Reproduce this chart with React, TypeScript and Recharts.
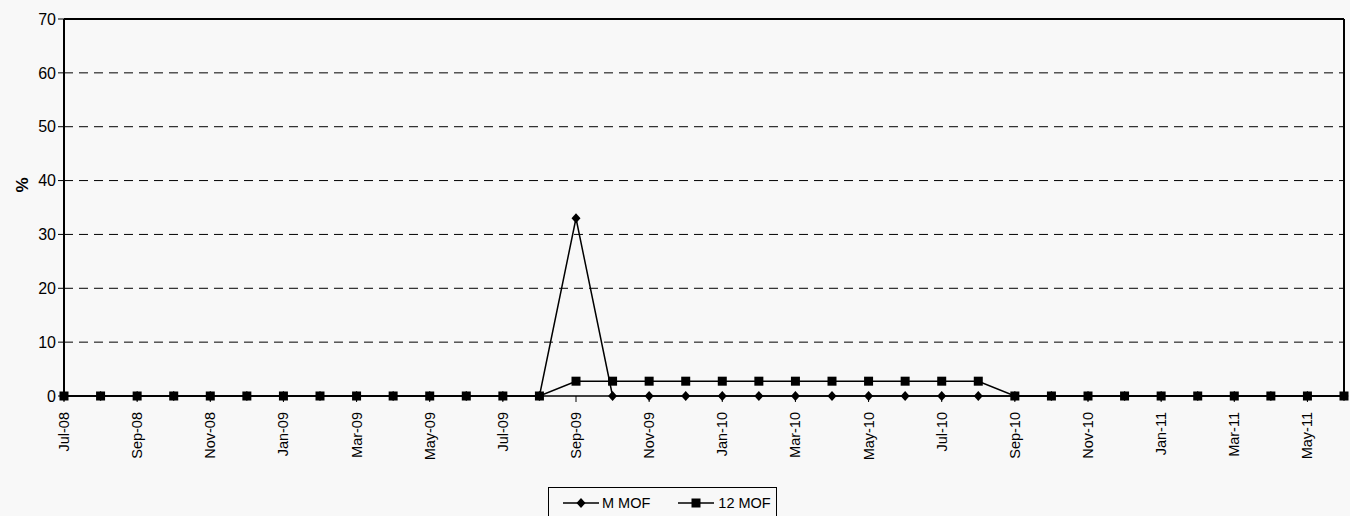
import { CartesianGrid, Line, LineChart, ReferenceLine, XAxis, YAxis } from "recharts"

const months = [
  "Jul-08", "Aug-08", "Sep-08", "Oct-08", "Nov-08", "Dec-08",
  "Jan-09", "Feb-09", "Mar-09", "Apr-09", "May-09", "Jun-09",
  "Jul-09", "Aug-09", "Sep-09", "Oct-09", "Nov-09", "Dec-09",
  "Jan-10", "Feb-10", "Mar-10", "Apr-10", "May-10", "Jun-10",
  "Jul-10", "Aug-10", "Sep-10", "Oct-10", "Nov-10", "Dec-10",
  "Jan-11", "Feb-11", "Mar-11", "Apr-11", "May-11", "Jun-11",
]

const mMof = [
  0, 0, 0, 0, 0, 0, 0, 0, 0, 0, 0, 0,
  0, 0, 33, 0, 0, 0, 0, 0, 0, 0, 0, 0,
  0, 0, 0, 0, 0, 0, 0, 0, 0, 0, 0, 0,
]

const twelveMof = [
  0, 0, 0, 0, 0, 0, 0, 0, 0, 0, 0, 0,
  0, 0, 2.75, 2.75, 2.75, 2.75, 2.75, 2.75, 2.75, 2.75, 2.75, 2.75,
  2.75, 2.75, 0, 0, 0, 0, 0, 0, 0, 0, 0, 0,
]

const yTicks = [0, 10, 20, 30, 40, 50, 60, 70]

const data = months.map((m, i) => ({ month: m, mMof: mMof[i], twelveMof: twelveMof[i] }))

const FONT = "'Liberation Sans', Arial, sans-serif"

const Diamond = (props: any) => {
  const { cx, cy } = props
  if (cx == null || cy == null) return null
  return <path d={`M${cx},${cy - 5}L${cx + 4.5},${cy}L${cx},${cy + 5}L${cx - 4.5},${cy}Z`} fill="#000" />
}

const Square = (props: any) => {
  const { cx, cy } = props
  if (cx == null || cy == null) return null
  return <rect x={cx - 4.5} y={cy - 4.5} width={9} height={9} fill="#000" />
}

const MonthTick = (props: any) => {
  const { x, y, payload } = props
  return (
    <g transform={`translate(${x},${y + 8})`}>
      <text transform="rotate(-90)" textAnchor="end" dominantBaseline="central" fontSize={14.5} fontFamily={FONT} fill="#000">
        {payload.value}
      </text>
    </g>
  )
}

export default function App() {
  return (
    <div style={{ position: "absolute", left: 0, top: 0, width: 1350, height: 516, background: "#f8f8f8", fontFamily: FONT }}>
      <LineChart width={1350} height={516} data={data} margin={{ top: 19, right: 6, left: 0, bottom: 0 }}>
        <CartesianGrid vertical={false} stroke="#000" strokeDasharray="9 6" horizontalValues={[10, 20, 30, 40, 50, 60]} />
        <XAxis
          dataKey="month"
          interval={1}
          height={120}
          tick={<MonthTick />}
          tickLine={{ stroke: "#000" }}
          tickSize={6}
          axisLine={{ stroke: "#000", strokeWidth: 1.5 }}
        />
        <YAxis
          width={64}
          domain={[0, 70]}
          ticks={yTicks}
          tick={{ fontSize: 16, fontFamily: FONT, fill: "#000" }}
          tickLine={{ stroke: "#000" }}
          tickSize={6}
          axisLine={{ stroke: "#000", strokeWidth: 2 }}
          label={{
            content: () => (
              <text x={22} y={185} transform="rotate(-90 22 185)" textAnchor="middle" dominantBaseline="central" fontSize={17} fontWeight="bold" fontFamily={FONT} fill="#000">
                %
              </text>
            ),
          }}
        />
        <ReferenceLine y={70} stroke="#000" strokeWidth={2} />
        <ReferenceLine x="Jun-11" stroke="#000" strokeWidth={2} />
        <Line dataKey="mMof" stroke="#000" strokeWidth={1.5} dot={<Diamond />} isAnimationActive={false} />
        <Line dataKey="twelveMof" stroke="#000" strokeWidth={1.5} dot={<Square />} isAnimationActive={false} />
      </LineChart>
      <div
        style={{
          position: "absolute",
          left: 548,
          top: 487,
          width: 229,
          height: 32,
          border: "1.5px solid #000",
          background: "#f8f8f8",
          display: "flex",
          alignItems: "center",
          fontSize: 14.5,
          color: "#000",
          boxSizing: "border-box",
        }}
      >
        <svg width={36} height={12} style={{ marginLeft: 14 }}>
          <line x1={0} y1={6} x2={36} y2={6} stroke="#000" strokeWidth={1.5} />
          <path d="M18,1L22.5,6L18,11L13.5,6Z" fill="#000" />
        </svg>
        <span style={{ marginLeft: 3 }}>M MOF</span>
        <svg width={36} height={12} style={{ marginLeft: 28 }}>
          <line x1={0} y1={6} x2={36} y2={6} stroke="#000" strokeWidth={1.5} />
          <rect x={13.5} y={1.5} width={9} height={9} fill="#000" />
        </svg>
        <span style={{ marginLeft: 4 }}>12 MOF</span>
      </div>
    </div>
  )
}
